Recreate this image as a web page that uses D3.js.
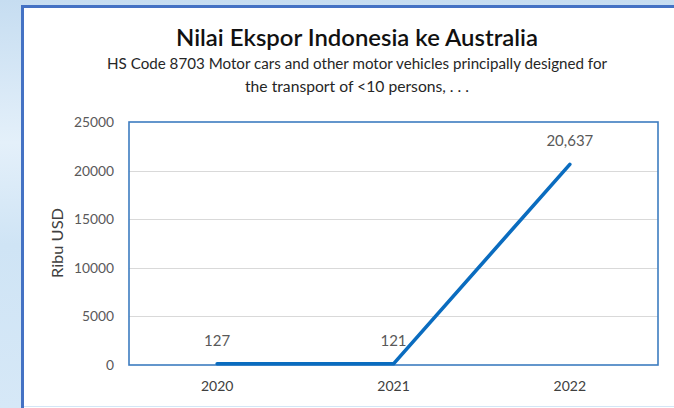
<!DOCTYPE html>
<html>
<head>
<meta charset="utf-8">
<script src="https://cdn.jsdelivr.net/npm/d3@7"></script>
<style>
  html, body { margin: 0; padding: 0; background: #fff; }
  svg { display: block; }
  text { font-family: Lato, "Open Sans", sans-serif; }
</style>
</head>
<body>
<svg id="chart" width="674" height="408"></svg>
<script>
const years = ["2020", "2021", "2022"];
const values = [127, 121, 20637];
const yTicks = [0, 5000, 10000, 15000, 20000, 25000];
const titleText = "Nilai Ekspor Indonesia ke Australia";
const subtitleLines = ["HS Code 8703 Motor cars and other motor vehicles principally designed for", "the transport of <10 persons, . . ."];
const yAxisTitle = "Ribu USD";

const svg = d3.select("#chart");
const W = 674, H = 408;

// slide background
const defs = svg.append("defs");
const g1 = defs.append("linearGradient").attr("id", "bg").attr("x1", 0).attr("y1", 0).attr("x2", 0).attr("y2", 1);
g1.append("stop").attr("offset", "0%").attr("stop-color", "#c6ddf1");
g1.append("stop").attr("offset", "35%").attr("stop-color", "#e4f0fa");
g1.append("stop").attr("offset", "60%").attr("stop-color", "#cfe4f5");
g1.append("stop").attr("offset", "100%").attr("stop-color", "#d6e8f7");
svg.append("rect").attr("width", W).attr("height", H).attr("fill", "url(#bg)");

// chart frame
svg.append("rect").attr("x", 22.5).attr("y", 6.5).attr("width", W).attr("height", H)
  .attr("fill", "#ffffff").attr("stroke", "#4472c4").attr("stroke-width", 3);
svg.append("line").attr("x1", 24).attr("x2", W).attr("y1", 406.5).attr("y2", 406.5)
  .attr("stroke", "#d4e6f6").attr("stroke-width", 1);

const plot = { left: 129, right: 658, top: 122, bottom: 365 };

const x = d3.scaleBand().domain(years).range([plot.left, plot.right]);
const y = d3.scaleLinear().domain([0, 25000]).range([plot.bottom, plot.top]);
const cx = d => x(d) + x.bandwidth() / 2;

// gridlines
svg.append("g").selectAll("line").data(yTicks.filter(t => t > 0 && t < 25000)).join("line")
  .attr("x1", plot.left).attr("x2", plot.right)
  .attr("y1", d => Math.round(y(d)) + 0.5).attr("y2", d => Math.round(y(d)) + 0.5)
  .attr("stroke", "#d9d9d9").attr("stroke-width", 1);

// y tick labels via axis
const yAxis = svg.append("g").attr("transform", `translate(${plot.left},0)`)
  .call(d3.axisLeft(y).tickValues(yTicks).tickFormat(d3.format("d")).tickSize(0).tickPadding(15));
yAxis.select(".domain").remove();
yAxis.selectAll("text").attr("fill", "#595959").attr("font-size", 13.8);

// x tick labels via axis
const xAxis = svg.append("g").attr("transform", `translate(0,${plot.bottom})`)
  .call(d3.axisBottom(x).tickSize(0).tickPadding(16));
xAxis.select(".domain").remove();
xAxis.selectAll("text").attr("fill", "#404040").attr("font-size", 14);

// plot border
svg.append("rect").attr("x", plot.left).attr("y", plot.top)
  .attr("width", plot.right - plot.left).attr("height", plot.bottom - plot.top)
  .attr("fill", "none").attr("stroke", "#3d7cc0").attr("stroke-width", 1.6);

// line
const pts = years.map((yr, i) => ({ yr, v: values[i] }));
svg.append("path").datum(pts)
  .attr("d", d3.line().x(d => cx(d.yr)).y(d => y(d.v)))
  .attr("fill", "none").attr("stroke", "#0a6cbf").attr("stroke-width", 3.6)
  .attr("stroke-linecap", "round").attr("stroke-linejoin", "round");

// data labels
svg.append("g").selectAll("text").data(pts).join("text")
  .attr("x", d => cx(d.yr)).attr("y", d => y(d.v) - 18)
  .attr("text-anchor", "middle").attr("fill", "#595959").attr("font-size", 15)
  .text(d => d3.format(",")(d.v));

// y-axis title
svg.append("text").attr("transform", "translate(63,243) rotate(-90)")
  .attr("text-anchor", "middle").attr("fill", "#404040").attr("font-size", 15)
  .attr("textLength", 70).attr("lengthAdjust", "spacingAndGlyphs")
  .text(yAxisTitle);

// title
svg.append("text").attr("x", 357).attr("y", 46).attr("text-anchor", "middle")
  .attr("font-size", 22.5).attr("font-weight", 600).attr("fill", "#111")
  .attr("textLength", 362).attr("lengthAdjust", "spacingAndGlyphs")
  .text(titleText);

// subtitle
const subLens = [500, 224];
svg.append("g").selectAll("text").data(subtitleLines).join("text")
  .attr("x", 357).attr("y", (d, i) => 69 + i * 23).attr("text-anchor", "middle")
  .attr("font-size", 14.5).attr("fill", "#262626")
  .attr("textLength", (d, i) => subLens[i]).attr("lengthAdjust", "spacingAndGlyphs")
  .text(d => d);
</script>
</body>
</html>
